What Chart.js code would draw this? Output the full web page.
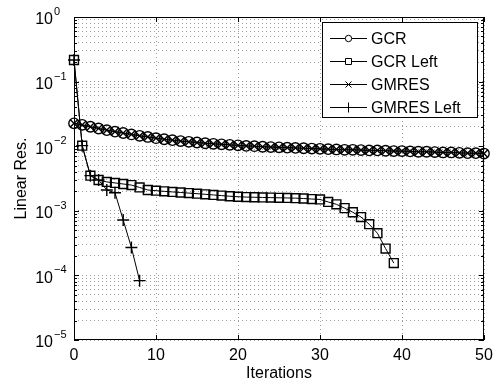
<!DOCTYPE html>
<html>
<head>
<meta charset="utf-8">
<script src="https://cdn.jsdelivr.net/npm/chart.js@4.4.0/dist/chart.umd.min.js"></script>
<style>
  body { margin: 0; background: #fff; }
  #wrap { width: 494px; height: 385px; }
</style>
</head>
<body>
<div id="wrap"><canvas id="convChart" width="494" height="385"></canvas></div>
<script>
// Residual history per iteration (index = iteration number)
const gcrRes = [
    0.0226, 0.0214, 0.0200, 0.0188, 0.0177, 0.0168, 0.0160, 0.0152, 0.0145, 0.0139,
    0.0133, 0.0128, 0.0124, 0.0120, 0.0117, 0.0114, 0.0111, 0.0109, 0.0107, 0.0105,
    0.0103, 0.0101, 0.0100, 0.0098, 0.0097, 0.0096, 0.0095, 0.0094, 0.0093, 0.0092,
    0.0091, 0.0090, 0.0089, 0.0088, 0.0088, 0.0087, 0.0086, 0.0086, 0.0085, 0.0084,
    0.0084, 0.0083, 0.0082, 0.0082, 0.0081, 0.0080, 0.0080, 0.0079, 0.0078, 0.0078,
    0.0077
];
const gcrLeftRes = [
    0.216, 0.0102, 0.0035, 0.0030, 0.0028, 0.0027, 0.0026, 0.0025, 0.0023, 0.0021,
    0.00205, 0.0020, 0.00196, 0.00192, 0.00188, 0.00184, 0.0018, 0.00176, 0.00172, 0.00168,
    0.00165, 0.00163, 0.00162, 0.00161, 0.0016, 0.00159, 0.00158, 0.00157, 0.00155, 0.00152,
    0.0015, 0.00137, 0.00126, 0.0011, 0.00095, 0.0008, 0.00062, 0.00045, 0.00026, 0.000155
];
// GMRES gives the same residuals as GCR (markers sit on top of the circles)
const gmresRes = [
    0.0226, 0.0214, 0.0200, 0.0188, 0.0177, 0.0168, 0.0160, 0.0152, 0.0145, 0.0139,
    0.0133, 0.0128, 0.0124, 0.0120, 0.0117, 0.0114, 0.0111, 0.0109, 0.0107, 0.0105,
    0.0103, 0.0101, 0.0100, 0.0098, 0.0097, 0.0096, 0.0095, 0.0094, 0.0093, 0.0092,
    0.0091, 0.0090, 0.0089, 0.0088, 0.0088, 0.0087, 0.0086, 0.0086, 0.0085, 0.0084,
    0.0084, 0.0083, 0.0082, 0.0082, 0.0081, 0.0080, 0.0080, 0.0079, 0.0078, 0.0078,
    0.0077
];
const gmresLeftRes = [0.216, 0.0102, 0.0035, 0.0030, 0.0021, 0.0019, 0.00072, 0.00027, 0.000083];

const seriesNames = ['GCR', 'GCR Left', 'GMRES', 'GMRES Left'];
const markerStyles = ['circle', 'rect', 'crossRot', 'cross'];
const markerSizes = [5.2, 6.3, 5.5, 6];

// Axis ticks
const xTickValues = [0, 10, 20, 30, 40, 50];
const yExponents = [-5, -4, -3, -2, -1, 0];

const FONT = '"Liberation Sans", Arial, Helvetica, sans-serif';

const toPoints = arr => arr.map((v, i) => ({ x: i, y: v }));

// all decades with 1..9 minor steps for the dotted grid
const yGridValues = [];
yExponents.forEach(e => {
    for (let m = 1; m <= 9; m++) {
        if (e === 0 && m > 1) break;
        yGridValues.push(m * Math.pow(10, e));
    }
});

const makeDataset = (idx, values) => ({
    label: seriesNames[idx],
    data: toPoints(values),
    borderColor: '#000',
    borderWidth: 1,
    backgroundColor: 'rgba(0,0,0,0)',
    pointStyle: markerStyles[idx],
    pointRadius: markerSizes[idx],
    pointBorderWidth: 1.4,
    pointBorderColor: '#000',
    pointBackgroundColor: 'rgba(0,0,0,0)',
    tension: 0,
    clip: false
});

// Draws the matlab-like box, ticks, labels and legend
const matlabAxes = {
    id: 'matlabAxes',
    afterDraw(chart) {
        const ctx = chart.ctx;
        const area = chart.chartArea;
        const xs = chart.scales.x;
        const ys = chart.scales.y;
        ctx.save();
        ctx.strokeStyle = '#000';
        ctx.fillStyle = '#000';
        ctx.lineWidth = 1;

        // box
        ctx.strokeRect(Math.round(area.left) + 0.5, Math.round(area.top) + 0.5,
            Math.round(area.right - area.left) - 1, Math.round(area.bottom - area.top) - 1);

        // x ticks (bottom and top)
        ctx.beginPath();
        xTickValues.forEach(v => {
            const px = Math.round(xs.getPixelForValue(v)) + 0.5;
            ctx.moveTo(px, area.bottom);
            ctx.lineTo(px, area.bottom - 5);
            ctx.moveTo(px, area.top);
            ctx.lineTo(px, area.top + 5);
        });
        // y ticks (left and right), major longer than minor
        yGridValues.forEach(v => {
            const py = Math.round(ys.getPixelForValue(v)) + 0.5;
            const isMajor = Math.abs(Math.log10(v) - Math.round(Math.log10(v))) < 1e-9;
            const len = isMajor ? 5 : 3;
            ctx.moveTo(area.left, py);
            ctx.lineTo(area.left + len, py);
            ctx.moveTo(area.right, py);
            ctx.lineTo(area.right - len, py);
        });
        ctx.stroke();

        // x tick labels
        ctx.font = '16px ' + FONT;
        ctx.textAlign = 'center';
        ctx.textBaseline = 'alphabetic';
        xTickValues.forEach(v => {
            ctx.fillText(String(v), xs.getPixelForValue(v), area.bottom + 20);
        });

        // y tick labels 10^e
        yExponents.forEach(e => {
            const py = ys.getPixelForValue(Math.pow(10, e));
            ctx.font = '16px ' + FONT;
            ctx.textAlign = 'right';
            ctx.textBaseline = 'middle';
            ctx.fillText('10', 53, py + 3);
            ctx.font = '11px ' + FONT;
            ctx.textAlign = 'left';
            ctx.fillText(e < 0 ? '\u2212' + Math.abs(e) : String(e), 54, py - 5);
        });

        // axis titles
        ctx.font = '16px ' + FONT;
        ctx.textAlign = 'center';
        ctx.textBaseline = 'alphabetic';
        ctx.fillText('Iterations', (area.left + area.right) / 2, area.bottom + 38);
        ctx.save();
        ctx.translate(26, (area.top + area.bottom) / 2);
        ctx.rotate(-Math.PI / 2);
        ctx.fillText('Linear Res.', 0, 0);
        ctx.restore();

        // legend box
        const lx = 322, ly = 22, lw = 155, lh = 95;
        ctx.fillStyle = '#fff';
        ctx.fillRect(lx, ly, lw, lh);
        ctx.strokeRect(lx + 0.5, ly + 0.5, lw, lh);
        ctx.fillStyle = '#000';
        seriesNames.forEach((name, i) => {
            const ry = Math.round(38 + i * 23) + 0.5;
            const mx = 348.5;
            ctx.beginPath();
            ctx.moveTo(330, ry);
            ctx.lineTo(367, ry);
            ctx.stroke();
            ctx.fillStyle = '#fff';
            drawMarker(ctx, markerStyles[i], mx, ry);
            ctx.fillStyle = '#000';
            ctx.font = '16px ' + FONT;
            ctx.textAlign = 'left';
            ctx.textBaseline = 'middle';
            ctx.fillText(name, 371, ry + 1);
        });
        ctx.restore();
    }
};

// smaller markers in the legend, like matlab does
function drawMarker(ctx, style, x, y) {
    ctx.beginPath();
    if (style === 'circle') {
        ctx.arc(x, y, 3.2, 0, Math.PI * 2);
        ctx.fill();
    } else if (style === 'rect') {
        ctx.rect(x - 3, y - 3, 6, 6);
        ctx.fill();
    } else if (style === 'crossRot') {
        ctx.moveTo(x - 3, y - 3); ctx.lineTo(x + 3, y + 3);
        ctx.moveTo(x - 3, y + 3); ctx.lineTo(x + 3, y - 3);
    } else {
        ctx.moveTo(x - 5, y); ctx.lineTo(x + 5, y);
        ctx.moveTo(x, y - 5); ctx.lineTo(x, y + 5);
    }
    ctx.stroke();
}

const gridColor = 'rgba(0,0,0,0.38)';

new Chart(document.getElementById('convChart').getContext('2d'), {
    type: 'line',
    data: {
        datasets: [
            makeDataset(0, gcrRes),
            makeDataset(1, gcrLeftRes),
            makeDataset(2, gmresRes),
            makeDataset(3, gmresLeftRes)
        ]
    },
    options: {
        responsive: false,
        animation: false,
        events: [],
        layout: { padding: { left: 74, right: 10, top: 17, bottom: 45 } },
        plugins: {
            legend: { display: false },
            tooltip: { enabled: false }
        },
        scales: {
            x: {
                type: 'linear',
                min: 0,
                max: 50,
                afterBuildTicks: scale => { scale.ticks = xTickValues.map(v => ({ value: v })); },
                afterFit: scale => { scale.height = 0; },
                ticks: { display: false },
                grid: { color: gridColor, drawTicks: false, lineWidth: 1 },
                border: { display: false, dash: [1, 3] }
            },
            y: {
                type: 'logarithmic',
                min: 1e-5,
                max: 1,
                afterBuildTicks: scale => { scale.ticks = yGridValues.map(v => ({ value: v })); },
                afterFit: scale => { scale.width = 0; },
                ticks: { display: false },
                grid: { color: gridColor, drawTicks: false, lineWidth: 1 },
                border: { display: false, dash: [1, 3] }
            }
        }
    },
    plugins: [matlabAxes]
});
</script>
</body>
</html>
